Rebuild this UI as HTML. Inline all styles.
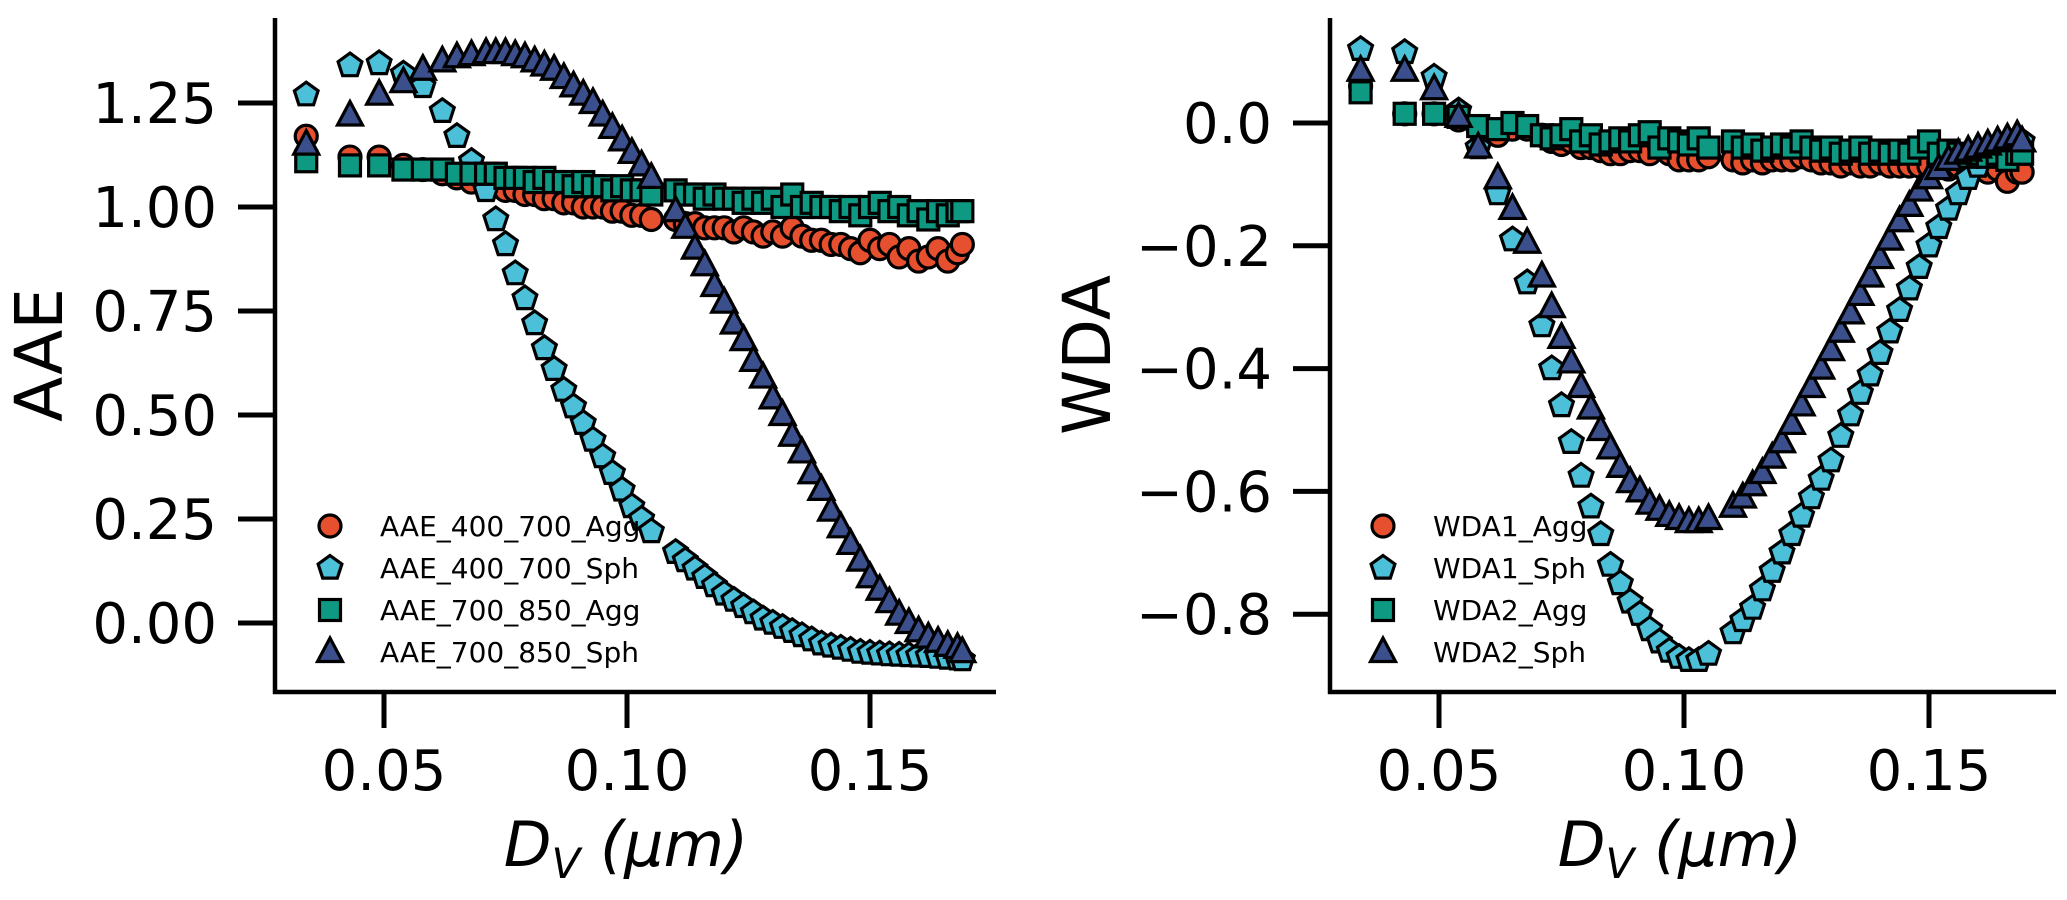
<!DOCTYPE html>
<html><head><meta charset="utf-8"><style>
html,body{margin:0;padding:0;background:#fff;}
svg{display:block;font-family:"DejaVu Sans","Liberation Sans",sans-serif;}
</style></head><body>
<svg id="fig" width="2067" height="900" viewBox="0 0 2067 900" xmlns="http://www.w3.org/2000/svg"></svg>
<script>
const xVals=[0.034,0.043,0.049,0.054,0.058,0.062,0.065,0.068,0.071,0.073,0.075,0.077,0.079,0.081,0.083,0.085,0.087,0.089,0.091,0.093,0.095,0.097,0.099,0.101,0.103,0.105,0.110,0.112,0.114,0.116,0.118,0.120,0.122,0.124,0.126,0.128,0.130,0.132,0.134,0.136,0.138,0.140,0.142,0.144,0.146,0.148,0.150,0.152,0.154,0.156,0.158,0.160,0.162,0.164,0.166,0.168,0.169];
const aae400Agg=[1.17,1.12,1.12,1.10,1.09,1.08,1.07,1.06,1.05,1.05,1.04,1.04,1.03,1.03,1.02,1.02,1.01,1.01,1.0,1.0,1.0,0.99,0.99,0.98,0.98,0.97,0.97,0.96,0.96,0.95,0.95,0.95,0.94,0.95,0.94,0.93,0.94,0.93,0.95,0.93,0.92,0.92,0.91,0.91,0.90,0.89,0.92,0.90,0.91,0.88,0.90,0.87,0.88,0.90,0.87,0.89,0.91];
const aae400Sph=[1.27,1.34,1.345,1.32,1.29,1.23,1.17,1.11,1.04,0.97,0.91,0.84,0.78,0.72,0.66,0.61,0.56,0.52,0.48,0.44,0.40,0.36,0.32,0.28,0.25,0.22,0.17,0.15,0.13,0.11,0.09,0.07,0.055,0.04,0.025,0.01,0.0,-0.01,-0.02,-0.03,-0.04,-0.05,-0.055,-0.06,-0.065,-0.07,-0.072,-0.074,-0.076,-0.077,-0.078,-0.079,-0.08,-0.082,-0.084,-0.086,-0.088];
const aae700Agg=[1.11,1.10,1.10,1.09,1.09,1.09,1.08,1.08,1.08,1.08,1.07,1.07,1.07,1.06,1.07,1.06,1.06,1.05,1.06,1.05,1.05,1.04,1.05,1.04,1.04,1.03,1.04,1.03,1.03,1.02,1.03,1.02,1.02,1.01,1.02,1.01,1.02,1.0,1.03,1.0,1.01,1.0,1.0,0.99,1.0,0.98,1.0,1.01,0.99,1.0,0.98,0.99,0.97,0.99,0.98,0.99,0.99];
const aae700Sph=[1.15,1.22,1.27,1.30,1.33,1.35,1.36,1.365,1.37,1.37,1.37,1.365,1.36,1.35,1.34,1.33,1.31,1.29,1.27,1.25,1.22,1.19,1.16,1.13,1.10,1.07,0.99,0.95,0.90,0.86,0.81,0.77,0.72,0.68,0.63,0.59,0.54,0.50,0.45,0.41,0.36,0.32,0.27,0.23,0.19,0.15,0.11,0.08,0.05,0.02,0.0,-0.02,-0.035,-0.045,-0.055,-0.06,-0.07];
const wda1Agg=[0.06,0.015,0.015,0.005,-0.01,-0.02,-0.01,-0.01,-0.02,-0.03,-0.035,-0.03,-0.04,-0.04,-0.045,-0.05,-0.05,-0.045,-0.045,-0.05,-0.04,-0.05,-0.06,-0.06,-0.06,-0.055,-0.06,-0.065,-0.06,-0.065,-0.06,-0.06,-0.06,-0.055,-0.06,-0.065,-0.065,-0.07,-0.065,-0.07,-0.07,-0.065,-0.07,-0.07,-0.07,-0.07,-0.07,-0.065,-0.075,-0.07,-0.075,-0.075,-0.08,-0.075,-0.095,-0.08,-0.08];
const wda1Sph=[0.12,0.115,0.075,0.02,-0.04,-0.115,-0.19,-0.26,-0.33,-0.40,-0.46,-0.52,-0.575,-0.625,-0.67,-0.72,-0.75,-0.78,-0.80,-0.825,-0.845,-0.86,-0.87,-0.875,-0.875,-0.865,-0.83,-0.81,-0.79,-0.76,-0.73,-0.70,-0.67,-0.64,-0.61,-0.58,-0.55,-0.51,-0.475,-0.44,-0.41,-0.375,-0.34,-0.305,-0.27,-0.235,-0.20,-0.17,-0.14,-0.115,-0.09,-0.07,-0.055,-0.045,-0.035,-0.03,-0.03];
const wda2Agg=[0.05,0.015,0.015,0.01,-0.005,-0.01,0.0,-0.005,-0.02,-0.025,-0.02,-0.01,-0.03,-0.02,-0.035,-0.03,-0.025,-0.03,-0.02,-0.015,-0.04,-0.025,-0.03,-0.035,-0.025,-0.04,-0.03,-0.04,-0.035,-0.045,-0.04,-0.035,-0.04,-0.03,-0.04,-0.045,-0.04,-0.05,-0.045,-0.04,-0.05,-0.045,-0.05,-0.045,-0.05,-0.04,-0.03,-0.05,-0.045,-0.05,-0.055,-0.05,-0.055,-0.05,-0.06,-0.05,-0.05];
const wda2Sph=[0.085,0.085,0.055,0.01,-0.04,-0.09,-0.14,-0.195,-0.25,-0.30,-0.35,-0.39,-0.43,-0.465,-0.50,-0.53,-0.56,-0.585,-0.60,-0.62,-0.63,-0.64,-0.645,-0.65,-0.65,-0.645,-0.625,-0.61,-0.59,-0.57,-0.545,-0.52,-0.49,-0.46,-0.43,-0.40,-0.37,-0.34,-0.31,-0.28,-0.25,-0.22,-0.19,-0.16,-0.135,-0.11,-0.09,-0.075,-0.06,-0.05,-0.045,-0.04,-0.035,-0.03,-0.025,-0.02,-0.03];
const xTicks=[0.05,0.10,0.15];
const xTickLabels=["0.05","0.10","0.15"];
const aaeTicks=[0,0.25,0.5,0.75,1.0,1.25];
const aaeTickLabels=["0.00","0.25","0.50","0.75","1.00","1.25"];
const wdaTicks=[-0.8,-0.6,-0.4,-0.2,0.0];
const wdaTickLabels=["\u22120.8","\u22120.6","\u22120.4","\u22120.2","0.0"];
const legendLeft=["AAE_400_700_Agg","AAE_400_700_Sph","AAE_700_850_Agg","AAE_700_850_Sph"];
const legendRight=["WDA1_Agg","WDA1_Sph","WDA2_Agg","WDA2_Sph"];

const NS="http://www.w3.org/2000/svg";
const svg=document.getElementById('fig');
function mk(tag,attrs,parent){const e=document.createElementNS(NS,tag);for(const k in attrs)e.setAttribute(k,attrs[k]);(parent||svg).appendChild(e);return e;}
const COL={circle:"#e6502f",pent:"#4cbfd9",square:"#0e9a82",tri:"#3b4f8d"};
function marker(shape,cx,cy,parent){
  const st={fill:COL[shape],stroke:"#000","stroke-width":3.2,"stroke-linejoin":"miter"};
  let e;
  if(shape==="circle"){e=mk('circle',Object.assign({cx:cx,cy:cy,r:11},st),parent);}
  else if(shape==="square"){e=mk('rect',Object.assign({x:cx-10.5,y:cy-10.5,width:21,height:21},st),parent);}
  else if(shape==="pent"){let p=[];for(let i=0;i<5;i++){const a=-Math.PI/2+i*2*Math.PI/5;p.push((cx+12.5*Math.cos(a)).toFixed(1)+","+(cy+12.5*Math.sin(a)).toFixed(1));}e=mk('polygon',Object.assign({points:p.join(" ")},st),parent);}
  else {e=mk('polygon',Object.assign({points:`${cx},${cy-14} ${cx+12.5},${cy+9.5} ${cx-12.5},${cy+9.5}`},st),parent);}
  return e;
}
function panel(cfg){
  const g=mk('g',{});
  
  
  const X=v=>cfg.x0+(v-0.05)*cfg.xs;
  const Y=v=>cfg.y0-v*cfg.ys;
  cfg.series.forEach(s=>{
    const sg=mk('g',{},g);
    
    
    xVals.forEach((xv,i)=>{
      const m=marker(s.shape,X(xv),Y(s.data[i]),sg);
      
      
    });
  });
  const ya=mk('line',{x1:cfg.ax,y1:cfg.top,x2:cfg.ax,y2:cfg.bottom+2,stroke:"#000","stroke-width":4.5},g);
  
  
  const xa=mk('line',{x1:cfg.ax-2,y1:cfg.bottom,x2:cfg.right,y2:cfg.bottom,stroke:"#000","stroke-width":4.5},g);
  
  
  xTicks.forEach((t,i)=>{
    const px=X(t);
    const tl=mk('line',{x1:px,y1:cfg.bottom,x2:px,y2:cfg.bottom+36,stroke:"#000","stroke-width":5},g);
    
    
    const tx=mk('text',{x:px,y:790,"text-anchor":"middle","font-size":56,fill:"#000"},g);
    tx.textContent=xTickLabels[i];
    
    
  });
  cfg.yTicks.forEach((t,i)=>{
    const py=Y(t);
    const tl=mk('line',{x1:cfg.ax-37,y1:py,x2:cfg.ax,y2:py,stroke:"#000","stroke-width":5},g);
    
    
    const tx=mk('text',{x:cfg.ax-58,y:py+20,"text-anchor":"end","font-size":56,fill:"#000"},g);
    tx.textContent=cfg.yLabels[i];
    
    
  });
  const yt=mk('text',{x:0,y:0,"text-anchor":"middle","font-size":66,fill:"#000",transform:`translate(${cfg.ytx},355) rotate(-90)`},g);
  yt.textContent=cfg.ytitle;
  
  
  const xt=mk('text',{x:cfg.xtx,y:866,"text-anchor":"middle","font-size":62,fill:"#000","font-style":"italic"},g);
  xt.innerHTML='D<tspan font-size="42" dy="12">V</tspan><tspan dy="-12"> (μm)</tspan>';
  
  
  const lg=mk('g',{},g);
  
  
  const ly=[526,568,610,652];
  cfg.series.forEach((s,i)=>{
    const m=marker(s.shape,cfg.lx,ly[i],lg);
    
    
    const t=mk('text',{x:cfg.lx+50,y:ly[i]+10,"font-size":28,fill:"#000"},lg);
    t.textContent=cfg.legend[i];
    
    
  });
}
panel({name:'aae-panel',x0:384,xs:4860,y0:623,ys:416,ax:275,top:18,bottom:692,right:996,
  yTicks:aaeTicks,yLabels:aaeTickLabels,ytitle:"AAE",ytx:62,xtx:626,lx:330,legend:legendLeft,
  series:[{name:'aae-400-700-agg',shape:'circle',data:aae400Agg},{name:'aae-400-700-sph',shape:'pent',data:aae400Sph},{name:'aae-700-850-agg',shape:'square',data:aae700Agg},{name:'aae-700-850-sph',shape:'tri',data:aae700Sph}]});
panel({name:'wda-panel',x0:1439,xs:4900,y0:123,ys:614,ax:1330,top:18,bottom:692,right:2056,
  yTicks:wdaTicks,yLabels:wdaTickLabels,ytitle:"WDA",ytx:1110,xtx:1680,lx:1383,legend:legendRight,
  series:[{name:'wda1-agg',shape:'circle',data:wda1Agg},{name:'wda1-sph',shape:'pent',data:wda1Sph},{name:'wda2-agg',shape:'square',data:wda2Agg},{name:'wda2-sph',shape:'tri',data:wda2Sph}]});
</script>
</body></html>
